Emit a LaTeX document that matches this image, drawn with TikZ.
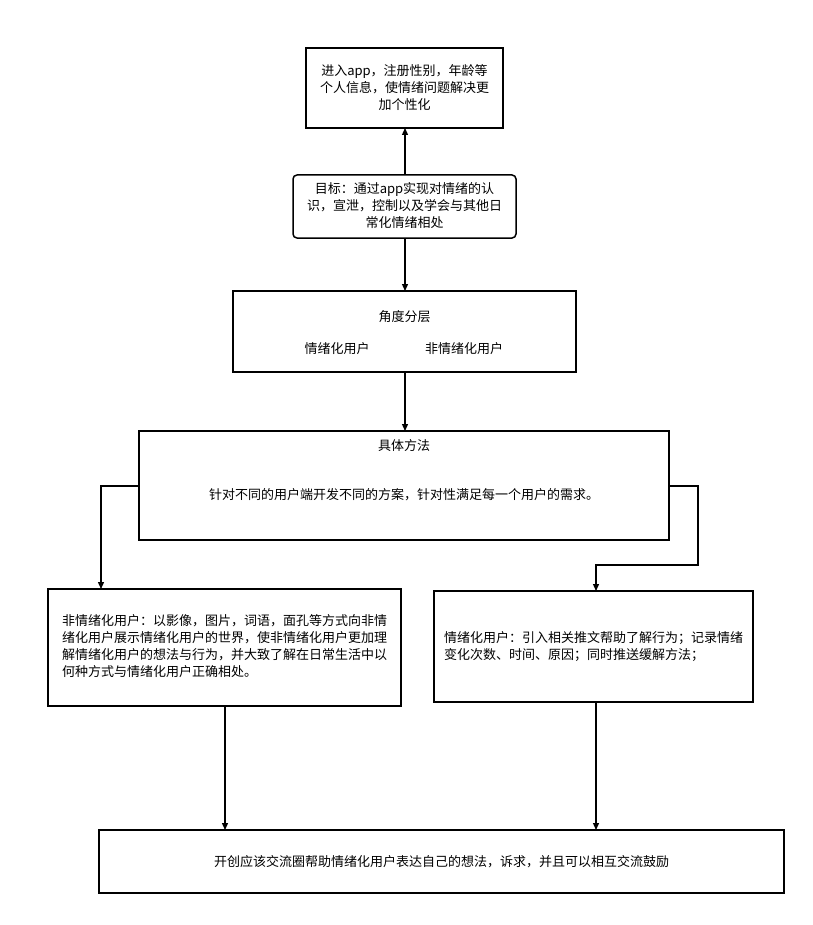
\documentclass[tikz,border=0pt]{standalone}
\usepackage{fontspec}
\setmainfont{Noto Sans CJK SC}
\usetikzlibrary{arrows.meta}
\begin{document}
\begin{tikzpicture}[x=1pt,y=-1pt,
  box/.style={draw=black,line width=1.5pt,inner sep=0pt},
  txt/.style={font=\fontsize{13}{17}\selectfont,align=center,inner sep=0pt},
  arr/.style={line width=1.3pt,-{Triangle[length=7pt,width=6pt]}}]
\useasboundingbox (0,0) rectangle (812,925);
\draw[box] (306,48) rectangle (503,128);
\node[txt] (a) at (404.5,88) {进入app，注册性别，年龄等\\个人信息，使情绪问题解决更\\加个性化};
\coordinate (aB) at (405,128);
\draw[box,rounded corners=4pt] (293,175) rectangle (516,238);
\node[txt] (g) at (404.5,206) {目标：通过app实现对情绪的认\\识，宣泄，控制以及学会与其他日\\常化情绪相处};
\coordinate (gT) at (405,175); \coordinate (gB) at (405,238);
\draw[box] (233,291) rectangle (576,372);
\node[txt] (c1) at (404.5,317) {角度分层};
\node[txt] (c2) at (337,349) {情绪化用户};
\node[txt] (c3) at (464,349) {非情绪化用户};
\coordinate (cT) at (405,291); \coordinate (cB) at (405,372);
\draw[box] (139,431) rectangle (669,540);
\node[txt] (d1) at (404,446) {具体方法};
\node[txt] (d2) at (404,495) {针对不同的用户端开发不同的方案，针对性满足每一个用户的需求。};
\coordinate (dT) at (405,431); \coordinate (dL) at (139,486); \coordinate (dR) at (669,486);
\draw[box] (48,589) rectangle (401,706);
\node[txt,align=left] (e) at (224.5,646) {非情绪化用户：以影像，图片，词语，面孔等方式向非情\\绪化用户展示情绪化用户的世界，使非情绪化用户更加理\\解情绪化用户的想法与行为，并大致了解在日常生活中以\\何种方式与情绪化用户正确相处。};
\coordinate (eT) at (101,589); \coordinate (eB) at (225,706);
\draw[box] (434,591) rectangle (753,702);
\node[txt,align=left] (f) at (593.5,647) {情绪化用户：引入相关推文帮助了解行为；记录情绪\\变化次数、时间、原因；同时推送缓解方法；};
\coordinate (fT) at (596,591); \coordinate (fB) at (596,702);
\draw[box] (99,830) rectangle (784,893);
\node[txt] (h) at (441.5,862) {开创应该交流圈帮助情绪化用户表达自己的想法，诉求，并且可以相互交流鼓励};
\coordinate (hL) at (225,830); \coordinate (hR) at (596,830);
\draw[arr] (gT) -- (aB);
\draw[arr] (gB) -- (cT);
\draw[arr] (cB) -- (dT);
\draw[arr] (dL) -- (101,486) -- (eT);
\draw[arr] (dR) -- (698,486) -- (698,565) -- (596,565) -- (fT);
\draw[arr] (eB) -- (hL);
\draw[arr] (fB) -- (hR);
\end{tikzpicture}
\end{document}
